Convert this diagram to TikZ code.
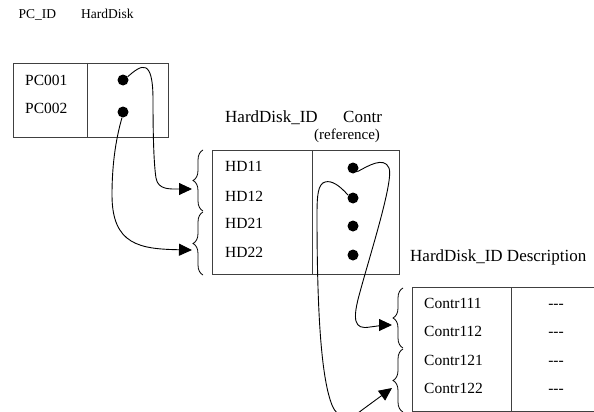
\documentclass[tikz,border=0pt]{standalone}
\usepackage{fontspec}
\setmainfont{Liberation Serif}
\usetikzlibrary{arrows.meta,decorations.pathreplacing}
\begin{document}
\begin{tikzpicture}[x=1pt,y=-1pt,
  tbl/.style={draw=black!75,line width=1pt,inner sep=0pt,anchor=north west},
  tblline/.style={draw=black!75,line width=1pt},
  cell/.style={inner sep=0pt,anchor=base west,font=\fontsize{15.5}{18}\selectfont},
  head/.style={inner sep=0pt,anchor=base west,font=\fontsize{17}{20}\selectfont},
  small/.style={inner sep=0pt,anchor=base west,font=\fontsize{13.5}{16}\selectfont},
  refnote/.style={inner sep=0pt,anchor=base west,font=\fontsize{15}{18}\selectfont},
  dot/.style={circle,fill=black,inner sep=0pt,minimum size=11pt},
  link/.style={line width=0.9pt,-{Triangle[length=13pt,width=12pt]}},
  bracedeco/.style={line width=0.8pt,decorate,decoration={brace,amplitude=10pt}}]
\useasboundingbox (0,0) rectangle (594,412);
\begin{scope}
\clip (0,0) rectangle (594,412);
% headers
\node[small] (hpc) at (18.3,19) {PC\_ID};
\node[small] (hhd) at (81,19) {HardDisk};
\node[head] (hhdid) at (225,122.7) {HardDisk\_ID};
\node[head] (hcontr) at (343,122.7) {Contr};
\node[refnote] (href) at (314,139.5) {(reference)};
\node[head] (hdesc) at (410,261.7) {HardDisk\_ID Description};
% table PC
\node[tbl,minimum width=155pt,minimum height=74pt] (pc) at (13,63) {};
\draw[tblline] ([xshift=74pt]pc.north west) -- ([xshift=74pt]pc.south west);
\node[cell] (pc1) at (25,85) {PC001};
\node[cell] (pc2) at (25,113.3) {PC002};
\node[dot] (d1) at (123,80) {};
\node[dot] (d2) at (123,112) {};
% table HD
\node[tbl,minimum width=187pt,minimum height=124pt] (hd) at (212,150) {};
\draw[tblline] ([xshift=100pt]hd.north west) -- ([xshift=100pt]hd.south west);
\node[cell] (hd11) at (225,171.7) {HD11};
\node[cell] (hd12) at (225,201) {HD12};
\node[cell] (hd21) at (225,228.3) {HD21};
\node[cell] (hd22) at (225,257.3) {HD22};
\node[dot] (d3) at (353,168) {};
\node[dot] (d4) at (353,198) {};
\node[dot] (d5) at (353,226) {};
\node[dot] (d6) at (353,255) {};
% table Contr
\node[tbl,minimum width=200pt,minimum height=124pt] (ct) at (412,287) {};
\draw[tblline] ([xshift=99pt]ct.north west) -- ([xshift=99pt]ct.south west);
\node[cell] (c111) at (424,308.3) {Contr111};
\node[cell] (c112) at (424,336.7) {Contr112};
\node[cell] (c121) at (424,365) {Contr121};
\node[cell] (c122) at (424,393.3) {Contr122};
\node[cell,anchor=base] (e1) at (556,308.3) {-{}-{}-};
\node[cell,anchor=base] (e2) at (556,336.7) {-{}-{}-};
\node[cell,anchor=base] (e3) at (556,365) {-{}-{}-};
\node[cell,anchor=base] (e4) at (556,393.3) {-{}-{}-};
% braces
\draw[bracedeco] (203,211) -- (203,150);
\draw[bracedeco] (203,275) -- (203,212);
\draw[bracedeco] (403,348) -- (403,288);
\draw[bracedeco] (403,412) -- (403,349);
% arrow targets
\coordinate (t1) at (192,189);
\coordinate (t2) at (192,250);
\coordinate (t3) at (392,325);
\coordinate (t4) at (392,388);
% connectors
\draw[link] (d1.35) .. controls (142,64) and (153,58) .. (153,100)
  .. controls (153,140) and (154,165) .. (156,178)
  .. controls (158,190) and (170,189) .. (t1);
\draw[link] (d2.260) .. controls (117,135) and (112,160) .. (112,195)
  .. controls (112,245) and (140,249) .. (t2);
\draw[link] (d3.-40) .. controls (368,166) and (384,156) .. (389,168)
  .. controls (394,180) and (370,255) .. (360,292)
  .. controls (352,320) and (354,330) .. (370,327)
  .. controls (378,326) and (385,325) .. (t3);
\draw[link] (d4.150) .. controls (340,186) and (332,180) .. (325,182)
  .. controls (318,184) and (317,195) .. (317,215)
  .. controls (317,320) and (322,380) .. (332,405)
  .. controls (338,420) and (350,420) .. (362,410) -- (t4);
\end{scope}
\end{tikzpicture}
\end{document}
